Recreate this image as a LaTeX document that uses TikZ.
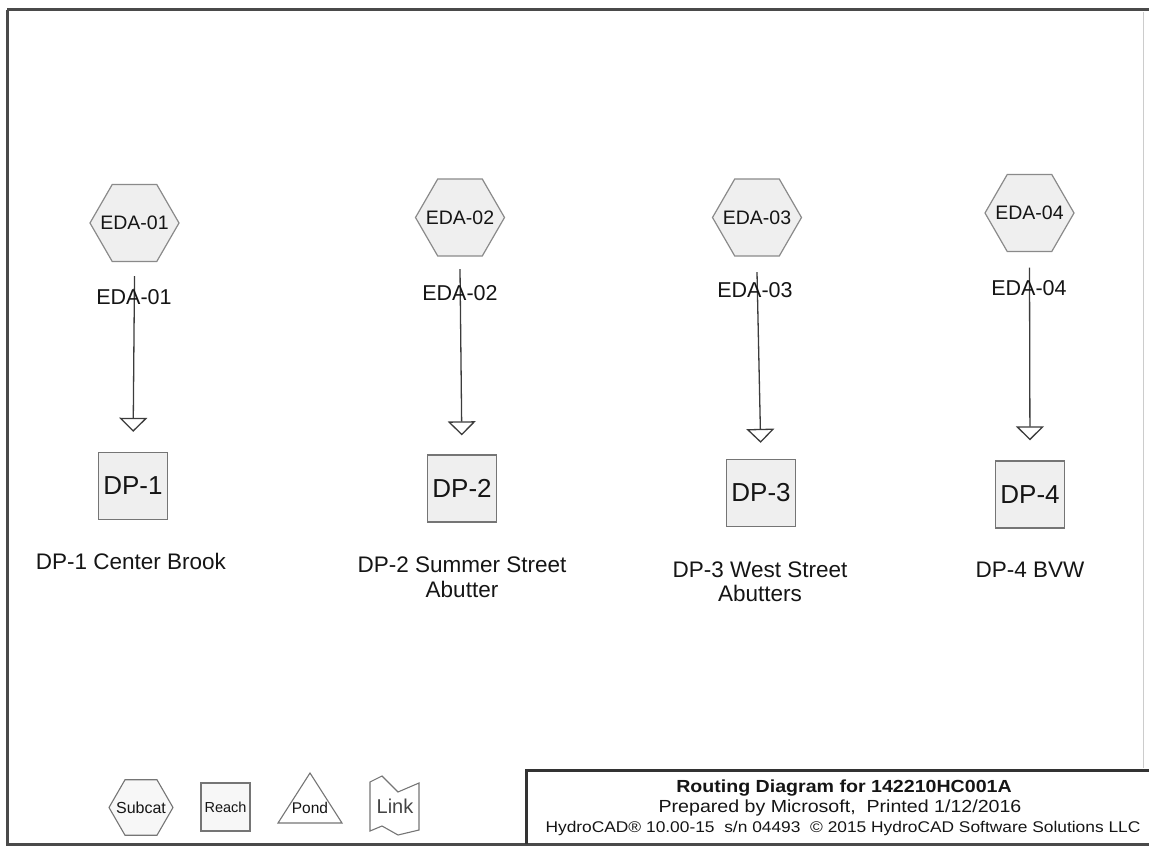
\documentclass[tikz,border=0pt]{standalone}
\usepackage{fontspec}
\setmainfont{Liberation Sans}
\newfontfamily\tbfont[FakeStretch=1.12]{Liberation Sans}
\usetikzlibrary{shapes.geometric,arrows.meta}
\definecolor{ink}{HTML}{151515}
\definecolor{edgec}{HTML}{8A8A8A}
\definecolor{fillg}{HTML}{EFEFEF}
\definecolor{linec}{HTML}{3C3C3C}
\definecolor{framec}{HTML}{4A4A4A}
\newcommand{\zw}[1]{\makebox[0pt]{#1}}
\begin{document}
\begin{tikzpicture}[x=1pt,y=-1pt,
  hexa/.style={regular polygon, regular polygon sides=6, minimum size=89pt, inner sep=0pt,
    draw=edgec, fill=fillg, line width=1.2pt, text=ink, font=\fontsize{19.5}{22}\selectfont},
  reachbox/.style={rectangle, minimum width=69pt, minimum height=67pt, inner sep=0pt,
    draw=edgec!85!black, fill=fillg, line width=1.3pt, text=ink, font=\fontsize{26}{28}\selectfont},
  lbl/.style={text=ink, font=\fontsize{21.5}{24.5}\selectfont, align=center, inner sep=0pt},
  dplbl/.style={lbl, font=\fontsize{22.5}{24.5}\selectfont},
  flow/.style={draw=linec, line width=1.3pt, -{Triangle[open, width=28pt, length=14pt]}},
  legline/.style={draw=edgec!85!black, line width=1.1pt},
  tbtext/.style={text=ink, inner sep=0pt},
  frameline/.style={draw=framec, line width=3pt},
]
\useasboundingbox (0,0) rectangle (1149,848);

% page frame
\draw[frameline] (7,10) -- (1149,10);
\draw[frameline] (7,10) -- (7,844) -- (1149,844);
\draw[draw=gray!40, line width=1pt] (1143,12) -- (1143,768);

% subcatchments
\node[hexa] (h1) at (134.5,223) {\zw{EDA-01}};
\node[hexa] (h2) at (460,217.5) {\zw{EDA-02}};
\node[hexa] (h3) at (757,217.5) {\zw{EDA-03}};
\node[hexa] (h4) at (1029.5,213) {\zw{EDA-04}};

% reaches
\node[reachbox] (dp1) at (133,486) {DP-1};
\node[reachbox] (dp2) at (462,488.5) {DP-2};
\node[reachbox] (dp3) at (761,493) {DP-3};
\node[reachbox] (dp4) at (1030,494.5) {DP-4};

% connectors
\draw[flow, shorten >=20pt] ([yshift=-14pt]h1.south) -- (dp1.north);
\draw[flow, shorten >=19pt] ([yshift=-12.5pt]h2.south) -- (dp2.north);
\draw[flow, shorten >=16pt] ([yshift=-15.5pt]h3.south) -- (dp3.north);
\draw[flow, shorten >=20pt] ([yshift=-15.5pt]h4.south) -- (dp4.north);

% labels
\node[lbl] (l1) at (134,297) {EDA-01};
\node[lbl] (l2) at (460,293) {EDA-02};
\node[lbl] (l3) at (755,290) {EDA-03};
\node[lbl] (l4) at (1029,288) {EDA-04};

\node[dplbl] (dl1) at (131,561) {DP-1 Center Brook};
\node[dplbl] (dl2) at (462,577) {DP-2 Summer Street\\Abutter};
\node[dplbl] (dl3) at (760,582) {DP-3 West Street\\Abutters};
\node[dplbl] (dl4) at (1030,570) {DP-4 BVW};

% legend
\node[hexa, minimum size=64pt, fill=gray!6, draw=edgec!85!black, line width=1.1pt,
      font=\fontsize{16}{18}\selectfont] (lsub) at (141,807.5) {\zw{Subcat}};
\node[reachbox, minimum width=49pt, minimum height=48pt, fill=gray!6, line width=1.1pt,
      font=\fontsize{14.5}{16}\selectfont] (lreach) at (225.5,807) {\zw{Reach}};
\draw[legline] (278,823) -- (310,773) -- (342,823) -- cycle;
\node[text=ink, inner sep=0pt, font=\fontsize{15.5}{17}\selectfont] (lpond) at (310,808) {Pond};
\draw[legline] (370,782) -- (382,776) -- (398,792) -- (419,783) -- (419,830)
  -- (398,835) -- (382,826) -- (370,831) -- cycle;
\node[text=ink!80, inner sep=0pt, font=\fontsize{20}{22}\selectfont] (llink) at (395,806) {Link};

% title block
\draw[frameline, draw=black!80] (1149,770) -- (526,770) -- (526,844);
\node[tbtext, font=\tbfont\bfseries\fontsize{17.5}{20}\selectfont] (t1) at (844,788) {Routing Diagram for 142210HC001A};
\node[tbtext, font=\tbfont\fontsize{17.5}{20}\selectfont] (t2) at (840,808) {Prepared by Microsoft,\ \ Printed 1/12/2016};
\node[tbtext, font=\tbfont\fontsize{15.5}{18}\selectfont] (t3) at (843,828) {HydroCAD® 10.00-15\ \ s/n 04493\ \ © 2015 HydroCAD Software Solutions LLC};
\end{tikzpicture}
\end{document}
